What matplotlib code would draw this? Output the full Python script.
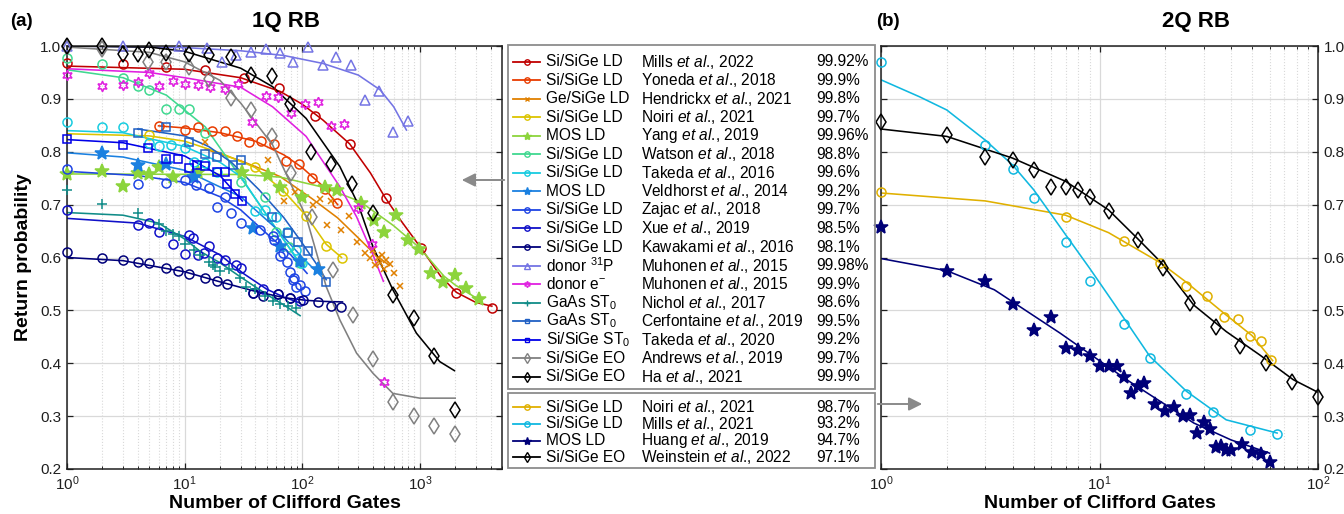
import numpy as np
import matplotlib
matplotlib.use("Agg")
import matplotlib.pyplot as plt
from matplotlib.patches import Rectangle, FancyArrowPatch
from matplotlib.lines import Line2D
from matplotlib.ticker import LogLocator, MultipleLocator, FormatStrFormatter, NullFormatter

W, H = 1344, 514
INK, GRID, ARROW = "#1f1f1f", "#d9d9d9", "#8a8a8a"
plt.rcParams.update({"font.family": "Liberation Sans", "mathtext.fontset": "custom",
                     "mathtext.rm": "Liberation Sans", "mathtext.it": "Liberation Sans:italic",
                     "mathtext.bf": "Liberation Sans:bold", "axes.unicode_minus": True})

# ---------------- 1Q RB data (Clifford count, return probability) ----------------
mills22_n = [1, 3, 7, 15, 32, 63, 128, 256, 512, 1024, 2048, 4096]
mills22_y = [0.968, 0.966, 0.961, 0.955, 0.940, 0.920, 0.868, 0.815, 0.713, 0.618, 0.533, 0.505]
mills22_fn = [1, 10, 30, 65, 100, 150, 253, 380, 505, 700, 1000, 1500, 2050, 3000, 4100]
mills22_fy = [0.962, 0.956, 0.940, 0.914, 0.890, 0.860, 0.815, 0.760, 0.714, 0.668, 0.621, 0.565, 0.534, 0.515, 0.508]

yoneda18_n = [6, 10, 13, 17, 22, 28, 35, 45, 58, 73, 94, 121, 155, 197]
yoneda18_y = [0.849, 0.841, 0.846, 0.839, 0.839, 0.830, 0.818, 0.820, 0.815, 0.783, 0.777, 0.751, 0.729, 0.703]
yoneda18_fn = [6, 10, 20, 40, 70, 100, 150, 200]
yoneda18_fy = [0.849, 0.845, 0.836, 0.820, 0.794, 0.770, 0.735, 0.700]

hendrickx21_n = [15, 51, 70, 87, 123, 141, 161, 177, 215, 250, 291, 340, 380, 400, 420,
                 440, 460, 480, 500, 520, 560, 600, 680]
hendrickx21_y = [0.819, 0.784, 0.707, 0.724, 0.700, 0.710, 0.662, 0.706, 0.652, 0.679, 0.630, 0.608,
                 0.600, 0.615, 0.585, 0.600, 0.590, 0.605, 0.578, 0.595, 0.588, 0.570, 0.546]
hendrickx21_fn = [15, 30, 65, 120, 200, 300, 420, 550]
hendrickx21_fy = [0.805, 0.783, 0.753, 0.712, 0.675, 0.637, 0.605, 0.585]

noiri21_n = [5, 40, 68, 108, 158, 216]
noiri21_y = [0.832, 0.772, 0.725, 0.679, 0.622, 0.599]
noiri21_fn = [1, 5, 10, 20, 40, 70, 110, 160, 216]
noiri21_fy = [0.834, 0.830, 0.820, 0.798, 0.770, 0.725, 0.677, 0.625, 0.600]

yang19_n = [1, 2, 3, 4, 5, 6, 8, 13, 31, 51, 65, 99, 155, 197, 314, 406, 495, 623, 795, 985,
            1250, 1575, 1980, 2490, 3170]
yang19_y = [0.758, 0.764, 0.735, 0.759, 0.757, 0.771, 0.753, 0.762, 0.762, 0.756, 0.733, 0.715,
            0.734, 0.728, 0.704, 0.670, 0.649, 0.680, 0.633, 0.616, 0.570, 0.553, 0.567, 0.542, 0.521]
yang19_fn = [1, 30, 65, 150, 310, 600, 1000, 1600, 2000, 3200]
yang19_fy = [0.758, 0.757, 0.752, 0.733, 0.706, 0.660, 0.618, 0.565, 0.548, 0.520]

watson18_n = [1, 2, 3, 4, 5, 7, 9, 11, 15, 30, 48, 60, 77, 95]
watson18_y = [0.977, 0.966, 0.939, 0.924, 0.917, 0.881, 0.881, 0.881, 0.835, 0.743, 0.714, 0.649, 0.620, 0.589]
watson18_fn = [1, 3, 7, 15, 31, 50, 83, 95]
watson18_fy = [0.955, 0.940, 0.907, 0.847, 0.747, 0.680, 0.609, 0.590]

takeda16_n = [1, 2, 3, 5, 6, 7.6, 10, 12, 15, 19, 40, 48, 60, 74, 88, 100]
takeda16_y = [0.857, 0.847, 0.847, 0.816, 0.810, 0.813, 0.807, 0.781, 0.778, 0.762, 0.688, 0.690,
              0.677, 0.649, 0.615, 0.590]
takeda16_fn = [1, 3, 10, 20, 30, 50, 83, 96]
takeda16_fy = [0.840, 0.836, 0.810, 0.780, 0.753, 0.680, 0.609, 0.583]

veldhorst14_n = [2, 4, 7, 12, 38, 65, 96, 136]
veldhorst14_y = [0.797, 0.775, 0.776, 0.753, 0.655, 0.621, 0.594, 0.578]
veldhorst14_fn = [1, 3, 10, 30, 60, 100, 146]
veldhorst14_fy = [0.798, 0.790, 0.765, 0.715, 0.655, 0.600, 0.564]

zajac18_n = [1, 4, 7, 10, 12.6, 16, 19, 22, 25, 30, 44, 57, 58, 65, 69, 74, 78, 84, 86, 89, 96, 105]
zajac18_y = [0.767, 0.739, 0.741, 0.747, 0.738, 0.731, 0.696, 0.715, 0.684, 0.665, 0.652, 0.640,
             0.633, 0.602, 0.608, 0.592, 0.573, 0.558, 0.561, 0.545, 0.548, 0.536]
zajac18_fn = [1, 4, 10, 20, 30, 50, 80, 110]
zajac18_fy = [0.763, 0.755, 0.742, 0.715, 0.690, 0.645, 0.605, 0.570]

xue19_n = [1, 4, 5, 6, 8, 10, 10.8, 11.8, 13, 14.7, 16, 19, 22, 27.6, 30.4, 38, 46, 62, 78, 95]
xue19_y = [0.689, 0.662, 0.666, 0.648, 0.626, 0.607, 0.643, 0.636, 0.604, 0.608, 0.622, 0.600,
           0.595, 0.586, 0.580, 0.533, 0.540, 0.531, 0.523, 0.517]
xue19_fn = [1, 4, 10, 20, 31.5, 50, 70, 96]
xue19_fy = [0.674, 0.665, 0.640, 0.605, 0.570, 0.540, 0.525, 0.514]

kawakami16_n = [1, 2, 3, 4, 5, 7, 8.8, 11, 15, 19, 23, 38, 46, 62, 78, 101, 136, 177, 215]
kawakami16_y = [0.610, 0.599, 0.595, 0.592, 0.589, 0.580, 0.575, 0.569, 0.561, 0.556, 0.550, 0.533,
                0.527, 0.531, 0.523, 0.520, 0.515, 0.509, 0.507]
kawakami16_fn = [1, 3, 10, 20, 40, 70, 108, 150, 220]
kawakami16_fy = [0.600, 0.594, 0.573, 0.554, 0.536, 0.524, 0.519, 0.517, 0.516]

p31_n = [1, 3, 9, 15.6, 21, 27.6, 37, 49, 64.5, 84, 112, 149, 195, 258, 340, 450, 590, 790]
p31_y = [1.0, 1.0, 1.0, 0.997, 0.969, 0.983, 0.989, 0.994, 0.987, 0.970, 0.999, 0.964, 0.980,
         0.965, 0.898, 0.914, 0.838, 0.859]
p31_fn = [1, 10, 30, 70, 150, 300, 460, 600, 770]
p31_fy = [1.0, 0.997, 0.991, 0.982, 0.967, 0.945, 0.917, 0.885, 0.841]

edonor_n = [1, 2, 3, 4, 5, 6, 8, 10, 13, 16.5, 22, 28.5, 37.5, 49, 62.5, 81, 105, 136, 177, 226,
            300, 395, 495]
edonor_y = [0.945, 0.925, 0.927, 0.931, 0.948, 0.924, 0.934, 0.929, 0.927, 0.923, 0.918, 0.929,
            0.857, 0.905, 0.904, 0.873, 0.890, 0.895, 0.849, 0.853, 0.693, 0.626, 0.364]
edonor_fn = [1, 5, 10, 30, 56, 108, 209, 290, 400, 490]
edonor_fy = [0.957, 0.950, 0.940, 0.922, 0.885, 0.829, 0.734, 0.677, 0.605, 0.555]

nichol17_n = [1, 2, 4, 6, 7, 8, 9, 10, 12, 13.5, 16, 17.5, 18, 20, 24, 29.5, 33, 40, 48, 56.5, 65, 75, 89]
nichol17_y = [0.728, 0.702, 0.684, 0.663, 0.650, 0.645, 0.640, 0.625, 0.615, 0.605, 0.592, 0.586,
              0.582, 0.575, 0.578, 0.561, 0.545, 0.540, 0.528, 0.517, 0.512, 0.508, 0.504]
nichol17_fn = [1, 3, 6, 10, 13.5, 20, 29.5, 50, 70, 96]
nichol17_fy = [0.685, 0.680, 0.665, 0.635, 0.612, 0.590, 0.564, 0.530, 0.510, 0.490]

cerfontaine19_n = [4, 6.9, 10.9, 14.9, 19, 25.9, 30, 55, 75, 92, 112, 160]
cerfontaine19_y = [0.835, 0.847, 0.819, 0.796, 0.791, 0.774, 0.784, 0.677, 0.647, 0.630, 0.613, 0.554]
cerfontaine19_fn = [4, 10, 16, 25, 43, 70, 96, 130, 160]
cerfontaine19_fy = [0.843, 0.830, 0.810, 0.780, 0.728, 0.675, 0.633, 0.590, 0.558]

takeda20_n = [1, 3, 4.9, 7, 8.8, 11, 12.8, 14.9, 18.8, 22, 22.8, 26.7, 31]
takeda20_y = [0.824, 0.813, 0.807, 0.786, 0.786, 0.769, 0.774, 0.773, 0.761, 0.761, 0.739, 0.720, 0.707]
takeda20_fn = [1, 3, 10, 20, 31]
takeda20_fy = [0.823, 0.817, 0.792, 0.755, 0.707]

andrews19_n = [1, 2, 4.9, 7, 10.9, 16, 25, 37, 55, 80, 120, 181, 270, 400, 590, 890, 1330, 2000]
andrews19_y = [0.999, 0.994, 0.970, 0.969, 0.960, 0.937, 0.901, 0.879, 0.829, 0.759, 0.676, 0.577,
               0.491, 0.408, 0.326, 0.301, 0.282, 0.266]
andrews19_fn = [1, 5, 10, 20, 30, 56, 108, 160, 209, 290, 400, 590, 1000, 2000]
andrews19_fy = [0.998, 0.988, 0.970, 0.935, 0.892, 0.813, 0.677, 0.545, 0.482, 0.419, 0.381, 0.343, 0.334, 0.334]

ha21_n = [1, 2, 3, 4, 5, 7, 10.9, 16, 25, 37, 55, 78, 118, 177, 265, 400, 590, 890, 1330, 2000]
ha21_y = [1.0, 1.0, 0.985, 0.985, 0.992, 0.987, 0.985, 0.983, 0.979, 0.946, 0.943, 0.890, 0.800,
          0.776, 0.739, 0.684, 0.529, 0.486, 0.413, 0.312]
ha21_fn = [1, 5, 10, 30, 56, 108, 209, 300, 400, 590, 935, 1480, 1970]
ha21_fy = [1.0, 0.998, 0.990, 0.958, 0.923, 0.863, 0.772, 0.700, 0.620, 0.539, 0.457, 0.403, 0.386]

# ---------------- 2Q RB data ----------------
noiri2q_n = [1, 7, 13, 19, 25, 31, 37, 43, 49, 55, 61]
noiri2q_y = [0.723, 0.677, 0.631, 0.589, 0.546, 0.527, 0.488, 0.484, 0.452, 0.443, 0.406]
noiri2q_fn = [1, 3, 7, 11, 19, 25, 37, 50, 62]
noiri2q_fy = [0.722, 0.707, 0.680, 0.647, 0.590, 0.553, 0.495, 0.452, 0.405]

mills2q_n = [1, 3, 4, 5, 7, 9, 13, 17, 25, 33, 49, 65]
mills2q_y = [0.969, 0.812, 0.767, 0.713, 0.630, 0.556, 0.474, 0.410, 0.342, 0.307, 0.274, 0.266]
mills2q_fn = [1, 1.5, 2, 3, 4, 5, 7, 9, 11.6, 17, 25, 38, 65]
mills2q_fy = [0.936, 0.904, 0.879, 0.822, 0.775, 0.728, 0.643, 0.580, 0.514, 0.413, 0.347, 0.293, 0.268]

huang19_n = [1, 2, 3, 4, 5, 6, 7, 8, 9, 10, 11, 12, 13, 14, 15, 16, 18, 20, 22, 24, 26, 28, 30, 32,
             34, 36, 38, 40, 45, 50, 55, 60]
huang19_y = [0.658, 0.575, 0.556, 0.513, 0.463, 0.488, 0.429, 0.425, 0.414, 0.395, 0.394, 0.394,
             0.374, 0.343, 0.357, 0.362, 0.323, 0.309, 0.318, 0.301, 0.302, 0.269, 0.288, 0.275,
             0.241, 0.244, 0.236, 0.236, 0.247, 0.233, 0.228, 0.214]
huang19_fn = [1, 2, 3.3, 6.6, 13.3, 27, 40, 60]
huang19_fy = [0.598, 0.575, 0.539, 0.457, 0.369, 0.287, 0.255, 0.230]

weinstein22_n = [1, 2, 3, 4, 5, 6, 7, 8, 9, 11, 15, 19.5, 26, 34, 44, 58, 76, 100]
weinstein22_y = [0.856, 0.832, 0.791, 0.785, 0.766, 0.734, 0.733, 0.728, 0.715, 0.687, 0.633, 0.580,
                 0.514, 0.469, 0.432, 0.401, 0.364, 0.337]
weinstein22_fn = [1, 2, 4, 7, 11, 15, 19, 27, 38, 54, 77, 100]
weinstein22_fy = [0.843, 0.829, 0.788, 0.744, 0.690, 0.635, 0.592, 0.510, 0.460, 0.416, 0.369, 0.345]

# legend table text
platform_1q = ["Si/SiGe LD", "Si/SiGe LD", "Ge/SiGe LD", "Si/SiGe LD", "MOS LD", "Si/SiGe LD",
               "Si/SiGe LD", "MOS LD", "Si/SiGe LD", "Si/SiGe LD", "Si/SiGe LD", r"donor $^{31}$P",
               r"donor e$^{-}$", r"GaAs ST$_0$", r"GaAs ST$_0$", r"Si/SiGe ST$_0$", "Si/SiGe EO", "Si/SiGe EO"]
author_1q = ["Mills", "Yoneda", "Hendrickx", "Noiri", "Yang", "Watson", "Takeda", "Veldhorst", "Zajac",
             "Xue", "Kawakami", "Muhonen", "Muhonen", "Nichol", "Cerfontaine", "Takeda", "Andrews", "Ha"]
year_1q = [2022, 2018, 2021, 2021, 2019, 2018, 2016, 2014, 2018, 2019, 2016, 2015, 2015, 2017, 2019,
           2020, 2019, 2021]
fidelity_1q = ["99.92%", "99.9%", "99.8%", "99.7%", "99.96%", "98.8%", "99.6%", "99.2%", "99.7%",
               "98.5%", "98.1%", "99.98%", "99.9%", "98.6%", "99.5%", "99.2%", "99.7%", "99.9%"]
platform_2q = ["Si/SiGe LD", "Si/SiGe LD", "MOS LD", "Si/SiGe EO"]
author_2q = ["Noiri", "Mills", "Huang", "Weinstein"]
year_2q = [2021, 2021, 2019, 2022]
fidelity_2q = ["98.7%", "93.2%", "94.7%", "97.1%"]

# styles: (color, marker, filled, markersize)
STY_1Q = [("#c00000", "o", False, 6.5), ("#e83c00", "o", False, 6.5), ("#e08000", "x", False, 4.5),
          ("#dcc400", "o", False, 6.5), ("#8cd43c", "*", True, 10), ("#40d890", "o", False, 6.5),
          ("#18cce0", "o", False, 6.5), ("#1a80e0", "*", True, 10), ("#1e44e4", "o", False, 6.5),
          ("#1010c8", "o", False, 6.5), ("#00007a", "o", False, 6.5), ("#7474e4", "^", False, 7),
          ("#e020e0", (6, 1, 0), False, 7.5), ("#108c88", "+", False, 6.5), ("#2060c4", "s", False, 6),
          ("#0000e8", "s", False, 6), ("#808080", "d", False, 8.5), ("#000000", "d", False, 8.5)]
STY_2Q = [("#e0b000", "o", False, 6.5), ("#10b8e0", "o", False, 6.5), ("#000078", "*", True, 10),
          ("#000000", "d", False, 8.5)]

DATA_1Q = [(mills22_n, mills22_y, mills22_fn, mills22_fy), (yoneda18_n, yoneda18_y, yoneda18_fn, yoneda18_fy),
           (hendrickx21_n, hendrickx21_y, hendrickx21_fn, hendrickx21_fy),
           (noiri21_n, noiri21_y, noiri21_fn, noiri21_fy), (yang19_n, yang19_y, yang19_fn, yang19_fy),
           (watson18_n, watson18_y, watson18_fn, watson18_fy),
           (takeda16_n, takeda16_y, takeda16_fn, takeda16_fy),
           (veldhorst14_n, veldhorst14_y, veldhorst14_fn, veldhorst14_fy),
           (zajac18_n, zajac18_y, zajac18_fn, zajac18_fy), (xue19_n, xue19_y, xue19_fn, xue19_fy),
           (kawakami16_n, kawakami16_y, kawakami16_fn, kawakami16_fy), (p31_n, p31_y, p31_fn, p31_fy),
           (edonor_n, edonor_y, edonor_fn, edonor_fy), (nichol17_n, nichol17_y, nichol17_fn, nichol17_fy),
           (cerfontaine19_n, cerfontaine19_y, cerfontaine19_fn, cerfontaine19_fy),
           (takeda20_n, takeda20_y, takeda20_fn, takeda20_fy),
           (andrews19_n, andrews19_y, andrews19_fn, andrews19_fy), (ha21_n, ha21_y, ha21_fn, ha21_fy)]
DATA_2Q = [(noiri2q_n, noiri2q_y, noiri2q_fn, noiri2q_fy), (mills2q_n, mills2q_y, mills2q_fn, mills2q_fy),
           (huang19_n, huang19_y, huang19_fn, huang19_fy),
           (weinstein22_n, weinstein22_y, weinstein22_fn, weinstein22_fy)]


def fx(px):
    return px / W


def fy(py):
    return 1 - py / H


def _series(ax, d, sty):
    n, y, fn, fyv = d
    col, mk, filled, ms = sty
    ax.plot(fn, fyv, color=col, lw=1.15, zorder=2)
    ax.plot(n, y, ls="none", marker=mk, ms=ms, mfc=col if filled else "none", mec=col,
            mew=1.1, clip_on=False, zorder=3)


def _style(ax, xmax, right=False):
    ax.set_xscale("log")
    ax.set_xlim(1, xmax)
    ax.set_ylim(0.2, 1.0)
    ax.xaxis.set_major_locator(LogLocator(base=10, numticks=10))
    ax.xaxis.set_minor_locator(LogLocator(base=10, subs=np.arange(2, 10), numticks=20))
    ax.xaxis.set_minor_formatter(NullFormatter())
    ax.yaxis.set_major_locator(MultipleLocator(0.1))
    ax.yaxis.set_major_formatter(FormatStrFormatter("%.1f"))
    ax.grid(which="major", color=GRID, lw=0.9)
    ax.grid(which="minor", axis="x", color=GRID, ls=":", lw=0.8)
    ax.set_axisbelow(True)
    ax.tick_params(which="both", direction="in", top=True, right=True, left=True, bottom=True,
                   labelsize=11, colors=INK, labelleft=not right, labelright=right, pad=4)
    ax.tick_params(which="major", length=4, width=0.9)
    ax.tick_params(which="minor", length=2.5, width=0.7)
    for s in ax.spines.values():
        s.set_color(INK); s.set_linewidth(1.1)
    ax.set_xlabel("Number of Clifford Gates", fontsize=14, fontweight="bold", labelpad=1)


fig = plt.figure(figsize=(W / 100, H / 100), dpi=100)
ax1 = fig.add_axes([fx(67), fy(469), fx(502) - fx(67), fy(46) - fy(469)])
ax2 = fig.add_axes([fx(881), fy(469), fx(1318) - fx(881), fy(46) - fy(469)])

for d, s in zip(DATA_1Q, STY_1Q):
    _series(ax1, d, s)
for d, s in zip(DATA_2Q, STY_2Q):
    _series(ax2, d, s)
_style(ax1, 5000)
_style(ax2, 100, right=True)
ax1.set_ylabel("Return probability", fontsize=14, fontweight="bold", labelpad=6)

fig.text(fx(10), fy(22), "(a)", fontsize=13.5, fontweight="bold", va="center")
fig.text(fx(286), fy(22), "1Q RB", fontsize=16, fontweight="bold", va="center", ha="center")
fig.text(fx(876), fy(22), "(b)", fontsize=13.5, fontweight="bold", va="center")
fig.text(fx(1196), fy(22), "2Q RB", fontsize=16, fontweight="bold", va="center", ha="center")


# legend tables drawn by hand
def _table(top, bottom, row0, step, styles, plat, auth, year, fid):
    fig.add_artist(Rectangle((fx(508), fy(bottom)), fx(875) - fx(508), fy(top) - fy(bottom),
                             transform=fig.transFigure, fill=False, ec="#8c8c8c", lw=1.3))
    for i, (col, mk, filled, ms) in enumerate(styles):
        yy = fy(row0 + i * step)
        fig.add_artist(Line2D([fx(513), fx(540)], [yy, yy], transform=fig.transFigure, color=col, lw=1.3))
        fig.add_artist(Line2D([fx(526.5)], [yy], transform=fig.transFigure, marker=mk, ms=ms * 0.6,
                              mfc=col if filled else "none", mec=col, mew=1.0))
        kw = dict(fontsize=11.2, va="center", color="black")
        fig.text(fx(546), yy, plat[i], **kw)
        fig.text(fx(641), yy, auth[i] + r" $\mathit{et\ al}$., " + str(year[i]), **kw)
        fig.text(fx(816), yy, fid[i], **kw)


_table(45, 389, 61.7, 18.53, STY_1Q, platform_1q, author_1q, year_1q, fidelity_1q)
_table(393, 468, 407.3, 16.6, STY_2Q, platform_2q, author_2q, year_2q, fidelity_2q)

for a, b in [((507, 180), (459, 180)), ((875, 404), (925, 404))]:
    fig.add_artist(FancyArrowPatch((fx(a[0]), fy(a[1])), (fx(b[0]), fy(b[1])), transform=fig.transFigure,
                                   arrowstyle="-|>", mutation_scale=20, color=ARROW, lw=1.4))

fig.savefig("out.png", dpi=100)
